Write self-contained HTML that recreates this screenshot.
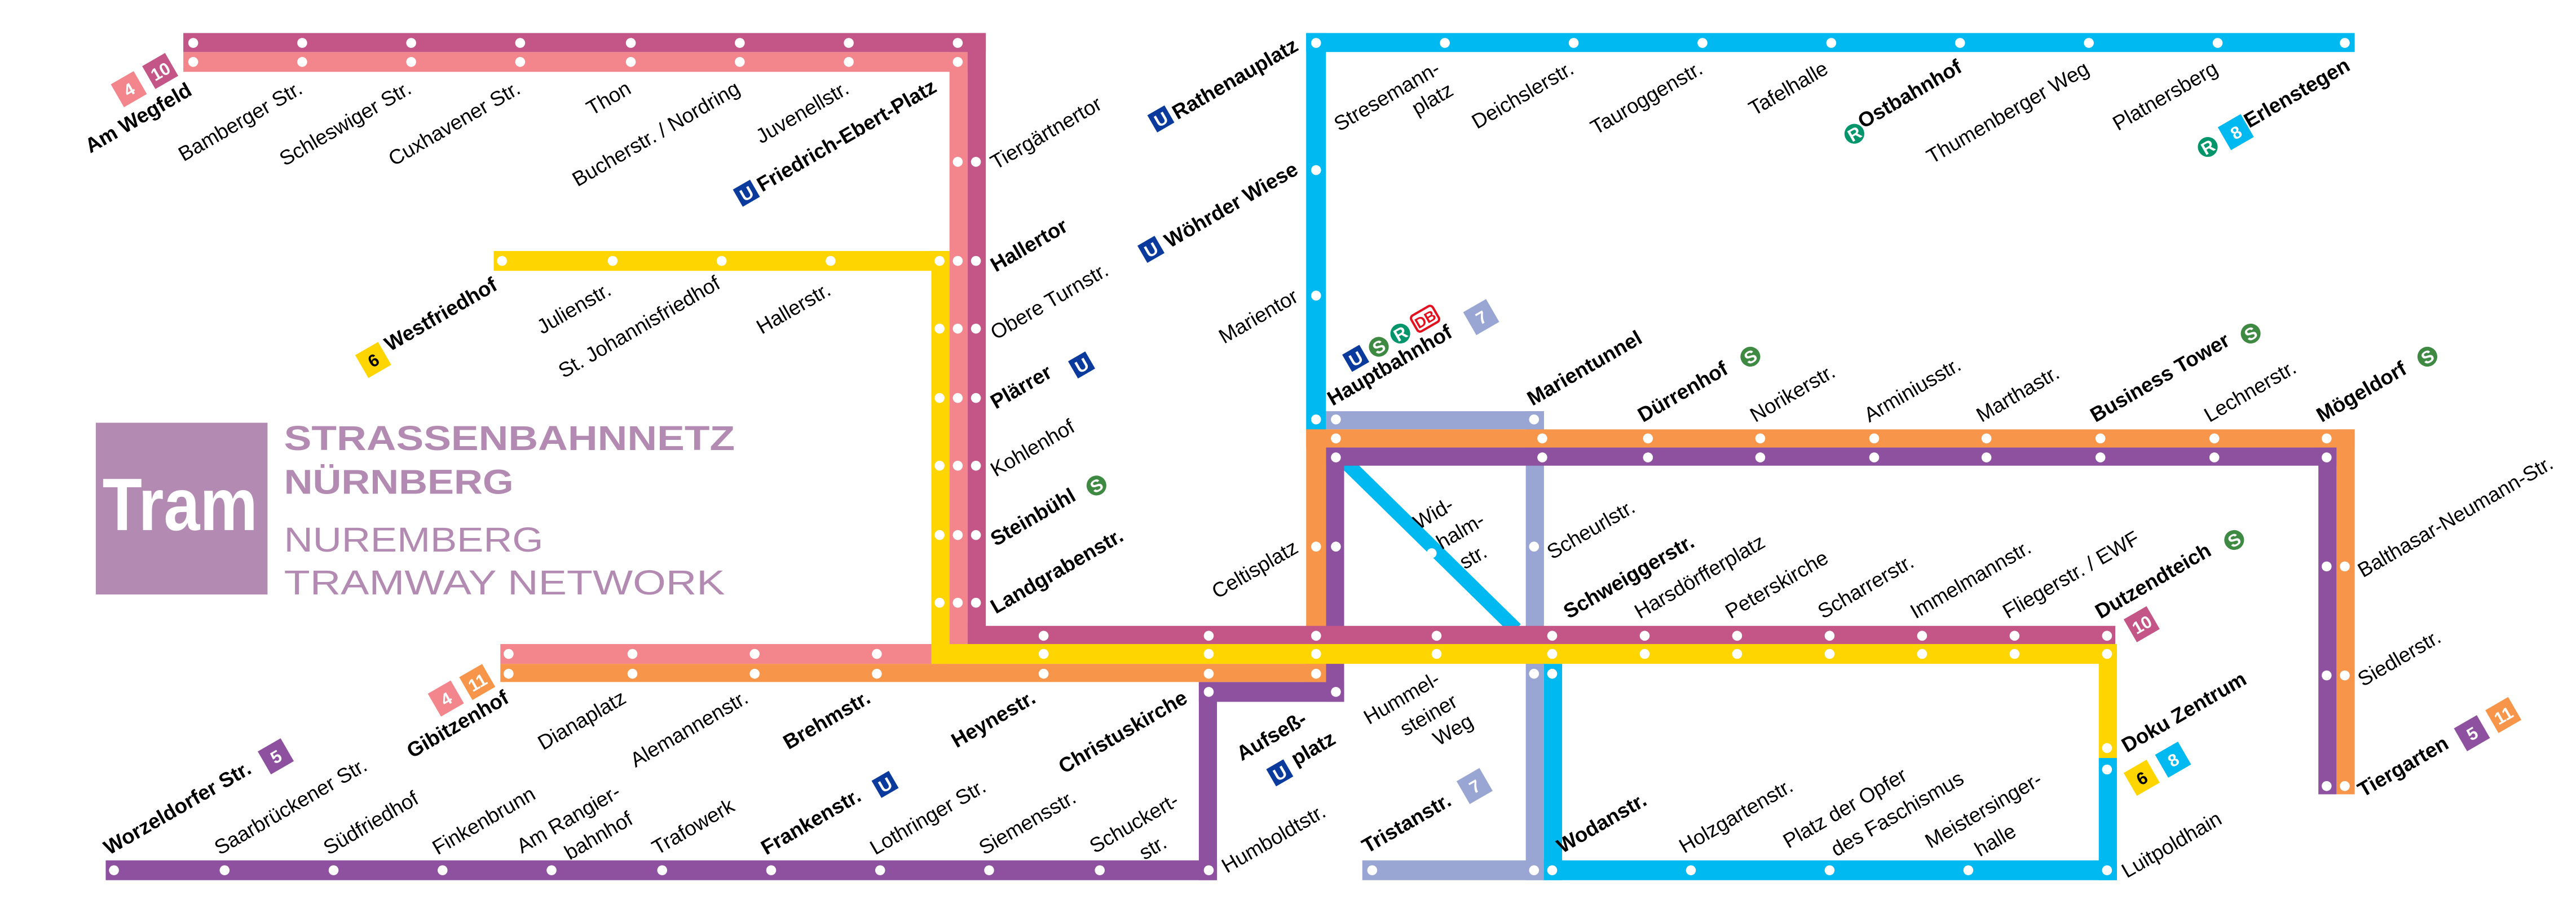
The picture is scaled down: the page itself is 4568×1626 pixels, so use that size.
<!DOCTYPE html>
<html><head><meta charset="utf-8"><style>
html,body{margin:0;padding:0;background:#fff}
svg{display:block}
text{font-family:"Liberation Sans",sans-serif;font-size:12.5px;fill:#000}
.b{font-weight:bold}
.bt{font-weight:bold;fill:#fff;text-anchor:middle;font-size:10.5px}
</style></head><body>
<svg width="4568" height="1626" viewBox="0 0 1560 555.3" xmlns="http://www.w3.org/2000/svg">
<rect width="1560" height="556" fill="#fff"/>
<g fill="#99a5d3">
<rect x="803" y="249" width="132" height="11"/><rect x="924" y="249" width="11" height="284"/><rect x="825" y="521" width="110" height="12"/>
</g>
<g fill="#00b9f0">
<rect x="791" y="20" width="635" height="11.5"/><rect x="791" y="20" width="12" height="241"/>
<rect x="935" y="402" width="11" height="131"/><rect x="935" y="521" width="347" height="12"/><rect x="1271" y="459" width="11" height="74"/>
</g>
<line x1="814" y1="279" x2="918" y2="381" stroke="#00b9f0" stroke-width="8.5"/>
<g fill="#8d519f">
<rect x="64" y="521" width="673" height="12"/><rect x="726" y="413" width="11" height="120"/><rect x="726" y="413" width="88" height="12"/>
<rect x="803" y="271" width="11" height="154"/><rect x="803" y="271" width="612" height="11"/><rect x="1404" y="271" width="11" height="210"/>
</g>
<g fill="#f7964a">
<rect x="303" y="402" width="500" height="11"/><rect x="791" y="260" width="12" height="153"/><rect x="791" y="260" width="635" height="11"/><rect x="1415" y="260" width="11" height="221"/>
</g>
<g fill="#f2868c">
<rect x="111" y="31.5" width="475" height="12"/><rect x="575" y="31.5" width="11" height="370"/><rect x="303" y="390" width="283" height="12"/>
</g>
<g fill="#c45587">
<rect x="111" y="20" width="486" height="11.5"/><rect x="586" y="20" width="11" height="370"/><rect x="586" y="379" width="695" height="11"/>
</g>
<g fill="#ffd500">
<rect x="299" y="152" width="276" height="12"/><rect x="564" y="152" width="11" height="250"/><rect x="564" y="390" width="718" height="12"/><rect x="1271" y="390" width="11" height="69"/>
</g>
<g fill="#fff">
<circle cx="117" cy="26" r="3"/><circle cx="183" cy="26" r="3"/><circle cx="249" cy="26" r="3"/><circle cx="315" cy="26" r="3"/><circle cx="382" cy="26" r="3"/><circle cx="448" cy="26" r="3"/><circle cx="514" cy="26" r="3"/><circle cx="580" cy="26" r="3"/>
<circle cx="117" cy="37.5" r="3"/><circle cx="183" cy="37.5" r="3"/><circle cx="249" cy="37.5" r="3"/><circle cx="315" cy="37.5" r="3"/><circle cx="382" cy="37.5" r="3"/><circle cx="448" cy="37.5" r="3"/><circle cx="514" cy="37.5" r="3"/><circle cx="580" cy="37.5" r="3"/>
<circle cx="580" cy="98" r="3"/><circle cx="591" cy="98" r="3"/>
<circle cx="569" cy="158" r="3"/><circle cx="580" cy="158" r="3"/><circle cx="591" cy="158" r="3"/>
<circle cx="569" cy="199" r="3"/><circle cx="580" cy="199" r="3"/><circle cx="591" cy="199" r="3"/>
<circle cx="569" cy="241" r="3"/><circle cx="580" cy="241" r="3"/><circle cx="591" cy="241" r="3"/>
<circle cx="569" cy="282" r="3"/><circle cx="580" cy="282" r="3"/><circle cx="591" cy="282" r="3"/>
<circle cx="569" cy="324" r="3"/><circle cx="580" cy="324" r="3"/><circle cx="591" cy="324" r="3"/>
<circle cx="569" cy="365" r="3"/><circle cx="580" cy="365" r="3"/><circle cx="591" cy="365" r="3"/>
<circle cx="304" cy="158" r="3"/><circle cx="371" cy="158" r="3"/><circle cx="437" cy="158" r="3"/><circle cx="503" cy="158" r="3"/>
<circle cx="632" cy="385" r="3"/><circle cx="732" cy="385" r="3"/><circle cx="797" cy="385" r="3"/><circle cx="870" cy="385" r="3"/><circle cx="940" cy="385" r="3"/><circle cx="996" cy="385" r="3"/><circle cx="1052" cy="385" r="3"/><circle cx="1108" cy="385" r="3"/><circle cx="1164" cy="385" r="3"/><circle cx="1220" cy="385" r="3"/><circle cx="1276" cy="385" r="3"/>
<circle cx="632" cy="396" r="3"/><circle cx="732" cy="396" r="3"/><circle cx="797" cy="396" r="3"/><circle cx="870" cy="396" r="3"/><circle cx="940" cy="396" r="3"/><circle cx="996" cy="396" r="3"/><circle cx="1052" cy="396" r="3"/><circle cx="1108" cy="396" r="3"/><circle cx="1164" cy="396" r="3"/><circle cx="1220" cy="396" r="3"/><circle cx="1276" cy="396" r="3"/>
<circle cx="308" cy="396" r="3"/><circle cx="383" cy="396" r="3"/><circle cx="457" cy="396" r="3"/><circle cx="531" cy="396" r="3"/>
<circle cx="308" cy="408" r="3"/><circle cx="383" cy="408" r="3"/><circle cx="457" cy="408" r="3"/><circle cx="531" cy="408" r="3"/><circle cx="632" cy="408" r="3"/><circle cx="732" cy="408" r="3"/><circle cx="797" cy="408" r="3"/>
<circle cx="732" cy="419" r="3"/><circle cx="809" cy="419" r="3"/>
<circle cx="797" cy="331" r="3"/><circle cx="809" cy="331" r="3"/>
<circle cx="69" cy="527" r="3"/><circle cx="136" cy="527" r="3"/><circle cx="202" cy="527" r="3"/><circle cx="268" cy="527" r="3"/><circle cx="334" cy="527" r="3"/><circle cx="401" cy="527" r="3"/><circle cx="467" cy="527" r="3"/><circle cx="533" cy="527" r="3"/><circle cx="599" cy="527" r="3"/><circle cx="666" cy="527" r="3"/><circle cx="732" cy="527" r="3"/>
<circle cx="797" cy="26" r="3"/><circle cx="875" cy="26" r="3"/><circle cx="953" cy="26" r="3"/><circle cx="1031" cy="26" r="3"/><circle cx="1109" cy="26" r="3"/><circle cx="1187" cy="26" r="3"/><circle cx="1265" cy="26" r="3"/><circle cx="1343" cy="26" r="3"/><circle cx="1420" cy="26" r="3"/>
<circle cx="797" cy="103" r="3"/><circle cx="797" cy="179" r="3"/><circle cx="797" cy="254" r="3"/>
<circle cx="809" cy="254" r="3"/><circle cx="929" cy="254" r="3"/><circle cx="929" cy="331" r="3"/><circle cx="929" cy="408" r="3"/><circle cx="940" cy="408" r="3"/><circle cx="831" cy="527" r="3"/><circle cx="929" cy="527" r="3"/>
<circle cx="940" cy="527" r="3"/><circle cx="1024" cy="527" r="3"/><circle cx="1108" cy="527" r="3"/><circle cx="1192" cy="527" r="3"/><circle cx="1276" cy="527" r="3"/>
<circle cx="867" cy="335" r="3"/><circle cx="1276" cy="453" r="3"/><circle cx="1276" cy="466" r="3"/>
<circle cx="809" cy="265.5" r="3"/><circle cx="934" cy="265.5" r="3"/><circle cx="998" cy="265.5" r="3"/><circle cx="1066" cy="265.5" r="3"/><circle cx="1135" cy="265.5" r="3"/><circle cx="1203" cy="265.5" r="3"/><circle cx="1272" cy="265.5" r="3"/><circle cx="1341" cy="265.5" r="3"/><circle cx="1409" cy="265.5" r="3"/>
<circle cx="809" cy="277" r="3"/><circle cx="934" cy="277" r="3"/><circle cx="998" cy="277" r="3"/><circle cx="1066" cy="277" r="3"/><circle cx="1135" cy="277" r="3"/><circle cx="1203" cy="277" r="3"/><circle cx="1272" cy="277" r="3"/><circle cx="1341" cy="277" r="3"/><circle cx="1409" cy="277" r="3"/>
<circle cx="1409" cy="343" r="3"/><circle cx="1420" cy="343" r="3"/><circle cx="1409" cy="409" r="3"/><circle cx="1420" cy="409" r="3"/><circle cx="1409" cy="476" r="3"/><circle cx="1420" cy="476" r="3"/>
</g>

<rect x="58" y="256" width="104" height="104" fill="#b38ab2"/>
<text x="62" y="321" style="font-size:45px;font-weight:bold;fill:#fff" textLength="94" lengthAdjust="spacingAndGlyphs">Tram</text>
<text x="172" y="272.5" style="font-size:21px;font-weight:bold;fill:#b38ab2" textLength="273" lengthAdjust="spacingAndGlyphs">STRASSENBAHNNETZ</text>
<text x="172" y="299" style="font-size:21px;font-weight:bold;fill:#b38ab2" textLength="139" lengthAdjust="spacingAndGlyphs">NÜRNBERG</text>
<text x="172" y="334" style="font-size:21px;fill:#b38ab2" textLength="157" lengthAdjust="spacingAndGlyphs">NUREMBERG</text>
<text x="172" y="360" style="font-size:21px;fill:#b38ab2" textLength="267" lengthAdjust="spacingAndGlyphs">TRAMWAY NETWORK</text>

<g text-anchor="end">
<text class="b" transform="translate(117,57) rotate(-30)">Am Wegfeld</text>
<text transform="translate(184,56) rotate(-30)">Bamberger Str.</text>
<text transform="translate(250,56) rotate(-30)">Schleswiger Str.</text>
<text transform="translate(316,56) rotate(-30)">Cuxhavener Str.</text>
<text transform="translate(383,56) rotate(-30)">Thon</text>
<text transform="translate(449,56) rotate(-30)">Bucherstr. / Nordring</text>
<text transform="translate(515,56) rotate(-30)">Juvenellstr.</text>
<text class="b" transform="translate(568,55) rotate(-30)">Friedrich-Ebert-Platz</text>
<text class="b" transform="translate(302,175) rotate(-30)">Westfriedhof</text>
<text transform="translate(371,178) rotate(-30)">Julienstr.</text>
<text transform="translate(437,174) rotate(-30)">St. Johannisfriedhof</text>
<text transform="translate(504,178) rotate(-30)">Hallerstr.</text>
<text class="b" transform="translate(787,30) rotate(-30)">Rathenauplatz</text>
<text class="b" transform="translate(787,105) rotate(-30)">Wöhrder Wiese</text>
<text transform="translate(787,182) rotate(-30)">Marientor</text>
<text transform="translate(787,334) rotate(-30)">Celtisplatz</text>
<text transform="translate(873,44) rotate(-30)">Stresemann-</text>
<text transform="translate(881,57) rotate(-30)">platz</text>
<text transform="translate(954,44) rotate(-30)">Deichslerstr.</text>
<text transform="translate(1032,44) rotate(-30)">Tauroggenstr.</text>
<text transform="translate(1108,44) rotate(-30)">Tafelhalle</text>
<text class="b" transform="translate(1189,43) rotate(-30)">Ostbahnhof</text>
<text transform="translate(1266,44) rotate(-30)">Thumenberger Weg</text>
<text transform="translate(1344,44) rotate(-30)">Platnersberg</text>
<text class="b" transform="translate(1424,42) rotate(-30)">Erlenstegen</text>
<text class="b" transform="translate(309,425) rotate(-30)">Gibitzenhof</text>
<text transform="translate(380,425) rotate(-30)">Dianaplatz</text>
<text transform="translate(454,425) rotate(-30)">Alemannenstr.</text>
<text class="b" transform="translate(528,425) rotate(-30)">Brehmstr.</text>
<text class="b" transform="translate(628,425) rotate(-30)">Heynestr.</text>
<text class="b" transform="translate(720,425) rotate(-30)">Christuskirche</text>
</g>
<g>
<text transform="translate(603,103) rotate(-30)">Tiergärtnertor</text>
<text class="b" transform="translate(603,165) rotate(-30)">Hallertor</text>
<text transform="translate(603,206) rotate(-30)">Obere Turnstr.</text>
<text class="b" transform="translate(603,248) rotate(-30)">Plärrer</text>
<text transform="translate(603,289) rotate(-30)">Kohlenhof</text>
<text class="b" transform="translate(603,331) rotate(-30)">Steinbühl</text>
<text class="b" transform="translate(603,372) rotate(-30)">Landgrabenstr.</text>
<text class="b" transform="translate(807,246) rotate(-30)">Hauptbahnhof</text>
<text class="b" transform="translate(928,246) rotate(-30)">Marientunnel</text>
<text class="b" transform="translate(995,256) rotate(-30)">Dürrenhof</text>
<text transform="translate(1063,256) rotate(-30)">Norikerstr.</text>
<text transform="translate(1132,256) rotate(-30)">Arminiusstr.</text>
<text transform="translate(1200,256) rotate(-30)">Marthastr.</text>
<text class="b" transform="translate(1269,256) rotate(-30)">Business Tower</text>
<text transform="translate(1338,256) rotate(-30)">Lechnerstr.</text>
<text class="b" transform="translate(1406,256) rotate(-30)">Mögeldorf</text>
<text transform="translate(859,321) rotate(-30)">Wid-</text>
<text transform="translate(873,333) rotate(-30)">halm-</text>
<text transform="translate(887,345) rotate(-30)">str.</text>
<text transform="translate(940,339) rotate(-30)">Scheurlstr.</text>
<text class="b" transform="translate(950,375) rotate(-30)">Schweiggerstr.</text>
<text transform="translate(993,375) rotate(-30)">Harsdörfferplatz</text>
<text transform="translate(1048,375) rotate(-30)">Peterskirche</text>
<text transform="translate(1104,375) rotate(-30)">Scharrerstr.</text>
<text transform="translate(1160,375) rotate(-30)">Immelmannstr.</text>
<text transform="translate(1216,375) rotate(-30)">Fliegerstr. / EWF</text>
<text class="b" transform="translate(1272,375) rotate(-30)">Dutzendteich</text>
<text transform="translate(1431,350) rotate(-30)">Balthasar-Neumann-Str.</text>
<text transform="translate(1431,416) rotate(-30)">Siedlerstr.</text>
<text class="b" transform="translate(1431,483) rotate(-30)">Tiergarten</text>
<text class="b" transform="translate(1288,456) rotate(-30)">Doku Zentrum</text>
<text transform="translate(1288,532) rotate(-30)">Luitpoldhain</text>
<text class="b" transform="translate(752,461) rotate(-30)">Aufseß-</text>
<text class="b" transform="translate(785,464) rotate(-30)">platz</text>
<text transform="translate(829,439) rotate(-30)">Hummel-</text>
<text transform="translate(851,446) rotate(-30)">steiner</text>
<text transform="translate(871,452) rotate(-30)">Weg</text>
<text class="b" transform="translate(828,517) rotate(-30)">Tristanstr.</text>
<text transform="translate(743,529) rotate(-30)">Humboldtstr.</text>
<text class="b" transform="translate(946,517) rotate(-30)">Wodanstr.</text>
<text transform="translate(1020,517) rotate(-30)">Holzgartenstr.</text>
<text transform="translate(1083,514) rotate(-30)">Platz der Opfer</text>
<text transform="translate(1112,519) rotate(-30)">des Faschismus</text>
<text transform="translate(1169,514) rotate(-30)">Meistersinger-</text>
<text transform="translate(1199,519) rotate(-30)">halle</text>
<text class="b" transform="translate(66,518) rotate(-30)">Worzeldorfer Str.</text>
<text transform="translate(133,518) rotate(-30)">Saarbrückener Str.</text>
<text transform="translate(199,518) rotate(-30)">Südfriedhof</text>
<text transform="translate(265,518) rotate(-30)">Finkenbrunn</text>
<text transform="translate(316,517) rotate(-30)">Am Rangier-</text>
<text transform="translate(345,521) rotate(-30)">bahnhof</text>
<text transform="translate(398,518) rotate(-30)">Trafowerk</text>
<text class="b" transform="translate(464,518) rotate(-30)">Frankenstr.</text>
<text transform="translate(530,518) rotate(-30)">Lothringer Str.</text>
<text transform="translate(596,518) rotate(-30)">Siemensstr.</text>
<text transform="translate(663,517) rotate(-30)">Schuckert-</text>
<text transform="translate(693,521) rotate(-30)">str.</text>
</g>

<g>
<g transform="translate(78,54) rotate(-30)"><rect x="-8" y="-8" width="16" height="16" fill="#f2868c"/><text class="bt" y="4">4</text></g>
<g transform="translate(97,43) rotate(-30)"><rect x="-8" y="-8" width="16" height="16" fill="#c45587"/><text class="bt" y="4">10</text></g>
<g transform="translate(226,218) rotate(-30)"><rect x="-8" y="-8" width="16" height="16" fill="#ffd500"/><text class="bt" y="4" style="fill:#000">6</text></g>
<g transform="translate(1354,80) rotate(-30)"><rect x="-8" y="-8" width="16" height="16" fill="#00b9f0"/><text class="bt" y="4">8</text></g>
<g transform="translate(897,192) rotate(-30)"><rect x="-8" y="-8" width="16" height="16" fill="#99a5d3"/><text class="bt" y="4">7</text></g>
<g transform="translate(1297,378) rotate(-30)"><rect x="-8" y="-8" width="16" height="16" fill="#c45587"/><text class="bt" y="4">10</text></g>
<g transform="translate(1297,471) rotate(-30)"><rect x="-8" y="-8" width="16" height="16" fill="#ffd500"/><text class="bt" y="4" style="fill:#000">6</text></g>
<g transform="translate(1316,460) rotate(-30)"><rect x="-8" y="-8" width="16" height="16" fill="#00b9f0"/><text class="bt" y="4">8</text></g>
<g transform="translate(893,476) rotate(-30)"><rect x="-8" y="-8" width="16" height="16" fill="#99a5d3"/><text class="bt" y="4">7</text></g>
<g transform="translate(1497,444) rotate(-30)"><rect x="-8" y="-8" width="16" height="16" fill="#8d519f"/><text class="bt" y="4">5</text></g>
<g transform="translate(1516,433) rotate(-30)"><rect x="-8" y="-8" width="16" height="16" fill="#f7964a"/><text class="bt" y="4">11</text></g>
<g transform="translate(270,423) rotate(-30)"><rect x="-8" y="-8" width="16" height="16" fill="#f2868c"/><text class="bt" y="4">4</text></g>
<g transform="translate(289,413) rotate(-30)"><rect x="-8" y="-8" width="16" height="16" fill="#f7964a"/><text class="bt" y="4">11</text></g>
<g transform="translate(167,458) rotate(-30)"><rect x="-8" y="-8" width="16" height="16" fill="#8d519f"/><text class="bt" y="4">5</text></g>
</g>
<g>
<g transform="translate(452,117) rotate(-30)"><rect x="-6" y="-6" width="12" height="12" fill="#0a3a9c"/><text class="bt" y="4">U</text></g>
<g transform="translate(703,72) rotate(-30)"><rect x="-6" y="-6" width="12" height="12" fill="#0a3a9c"/><text class="bt" y="4">U</text></g>
<g transform="translate(697,151) rotate(-30)"><rect x="-6" y="-6" width="12" height="12" fill="#0a3a9c"/><text class="bt" y="4">U</text></g>
<g transform="translate(655,221) rotate(-30)"><rect x="-6" y="-6" width="12" height="12" fill="#0a3a9c"/><text class="bt" y="4">U</text></g>
<g transform="translate(821,217) rotate(-30)"><rect x="-6" y="-6" width="12" height="12" fill="#0a3a9c"/><text class="bt" y="4">U</text></g>
<g transform="translate(536,475) rotate(-30)"><rect x="-6" y="-6" width="12" height="12" fill="#0a3a9c"/><text class="bt" y="4">U</text></g>
<g transform="translate(775,468) rotate(-30)"><rect x="-6" y="-6" width="12" height="12" fill="#0a3a9c"/><text class="bt" y="4">U</text></g>
</g>
<g>
<g transform="translate(664,294) rotate(-30)"><circle r="6" fill="#3f8a43"/><text class="bt" y="3.8">S</text></g>
<g transform="translate(835,210) rotate(-30)"><circle r="6" fill="#3f8a43"/><text class="bt" y="3.8">S</text></g>
<g transform="translate(1060,216) rotate(-30)"><circle r="6" fill="#3f8a43"/><text class="bt" y="3.8">S</text></g>
<g transform="translate(1363,202) rotate(-30)"><circle r="6" fill="#3f8a43"/><text class="bt" y="3.8">S</text></g>
<g transform="translate(1470,216) rotate(-30)"><circle r="6" fill="#3f8a43"/><text class="bt" y="3.8">S</text></g>
<g transform="translate(1353,327) rotate(-30)"><circle r="6" fill="#3f8a43"/><text class="bt" y="3.8">S</text></g>
<g transform="translate(848,202) rotate(-30)"><circle r="6" fill="#00956a"/><text class="bt" y="3.8">R</text></g>
<g transform="translate(1123,81) rotate(-30)"><circle r="6" fill="#00956a"/><text class="bt" y="3.8">R</text></g>
<g transform="translate(1337,89) rotate(-30)"><circle r="6" fill="#00956a"/><text class="bt" y="3.8">R</text></g>
<g transform="translate(863,193) rotate(-30)"><rect x="-7.5" y="-5.5" width="15" height="11" rx="2" fill="#fff" stroke="#e3101e" stroke-width="1.4"/><text class="bt" y="3.5" style="fill:#e3101e;font-size:9px">DB</text></g>
</g>
</svg>
</body></html>
